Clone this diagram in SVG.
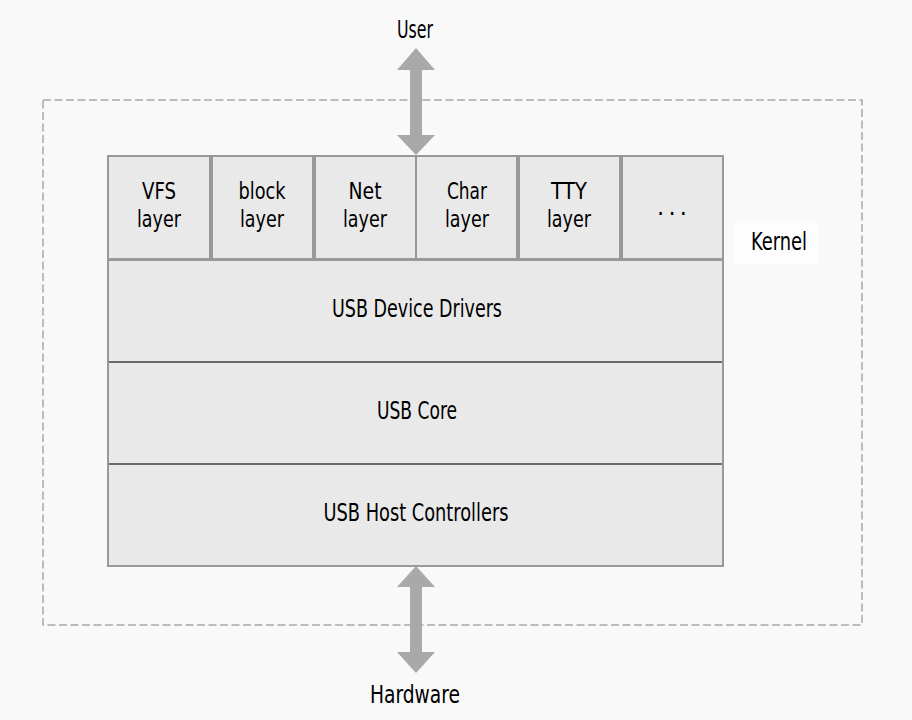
<svg xmlns="http://www.w3.org/2000/svg" width="912" height="720" viewBox="0 0 912 720">
<style>
  .bg { fill: #f9f9f9; }
  .frame { fill: none; stroke: #a8a8a8; stroke-width: 1.5; stroke-dasharray: 8 3.5; }
  .cell { fill: #e9e9e9; stroke: #999999; stroke-width: 2; }
  .row { fill: #e9e9e9; stroke: none; }
  .div { stroke: #6a6a6a; stroke-width: 2; }
  .border { fill: none; stroke: #999999; stroke-width: 2; }
  .arrow { fill: #a9a9a9; stroke: none; }
  text { font-family: "Liberation Sans Narrow", "DejaVu Sans Condensed", "Liberation Sans", sans-serif; font-stretch: condensed; fill: #000000; text-anchor: middle; font-size: 25px; }
  .cl { font-size: 23px; }
</style>
<rect class="bg" x="0" y="0" width="912" height="720"/>
<rect class="frame" x="43" y="100" width="819" height="525"/>
<rect x="735" y="220" width="82" height="44" fill="#fdfdfd"/>

<g id="node-vfs">
  <rect class="cell" x="108" y="156" width="102" height="103"/>
  <text class="cl" x="159" y="199" textLength="34" lengthAdjust="spacingAndGlyphs">VFS</text>
  <text class="cl" x="159" y="227" textLength="44" lengthAdjust="spacingAndGlyphs">layer</text>
</g>
<g id="node-block">
  <rect class="cell" x="212" y="156" width="101" height="103"/>
  <text class="cl" x="262" y="199" textLength="47" lengthAdjust="spacingAndGlyphs">block</text>
  <text class="cl" x="262" y="227" textLength="44" lengthAdjust="spacingAndGlyphs">layer</text>
</g>
<g id="node-net">
  <rect class="cell" x="315" y="156" width="101" height="103"/>
  <text class="cl" x="365" y="199" textLength="33" lengthAdjust="spacingAndGlyphs">Net</text>
  <text class="cl" x="365" y="227" textLength="44" lengthAdjust="spacingAndGlyphs">layer</text>
</g>
<g id="node-char">
  <rect class="cell" x="416" y="156" width="101" height="103"/>
  <text class="cl" x="467" y="199" textLength="40" lengthAdjust="spacingAndGlyphs">Char</text>
  <text class="cl" x="467" y="227" textLength="44" lengthAdjust="spacingAndGlyphs">layer</text>
</g>
<g id="node-tty">
  <rect class="cell" x="519" y="156" width="101" height="103"/>
  <text class="cl" x="569" y="199" textLength="36" lengthAdjust="spacingAndGlyphs">TTY</text>
  <text class="cl" x="569" y="227" textLength="44" lengthAdjust="spacingAndGlyphs">layer</text>
</g>
<g id="node-more">
  <rect class="cell" x="622" y="156" width="101" height="103"/>
  <text x="672" y="215" font-size="16" textLength="30" lengthAdjust="spacing">. . .</text>
</g>

<g id="node-usb-device-drivers">
  <rect class="row" x="109" y="261" width="613" height="101"/>
  <text x="417" y="317" textLength="170" lengthAdjust="spacingAndGlyphs">USB Device Drivers</text>
</g>
<g id="node-usb-core">
  <rect class="row" x="109" y="363" width="613" height="100"/>
  <text x="417" y="419" textLength="80" lengthAdjust="spacingAndGlyphs">USB Core</text>
</g>
<g id="node-usb-host-controllers">
  <rect class="row" x="109" y="464" width="613" height="101"/>
  <text x="416" y="521" textLength="185" lengthAdjust="spacingAndGlyphs">USB Host Controllers</text>
</g>
<line class="div" x1="109" y1="362" x2="722" y2="362"/>
<line class="div" x1="109" y1="464" x2="722" y2="464"/>
<line class="border" x1="108" y1="260" x2="723" y2="260"/>
<path class="border" d="M108 259 V566 H723 V259"/>

<g id="node-user">
  <text x="415" y="38" textLength="36" lengthAdjust="spacingAndGlyphs">User</text>
</g>
<g id="node-hardware">
  <text x="415" y="703" textLength="90" lengthAdjust="spacingAndGlyphs">Hardware</text>
</g>
<g id="node-kernel">
  <text x="779" y="250" textLength="56" lengthAdjust="spacingAndGlyphs">Kernel</text>
</g>

<g id="connectors">
  <polygon class="arrow" points="416,48 435,70 422,70 422,135 435,135 416,155 397,135 410,135 410,70 397,70"/>
  <polygon class="arrow" points="416,566 435,587 422,587 422,652 435,652 416,673 397,652 410,652 410,587 397,587"/>
</g>
</svg>
